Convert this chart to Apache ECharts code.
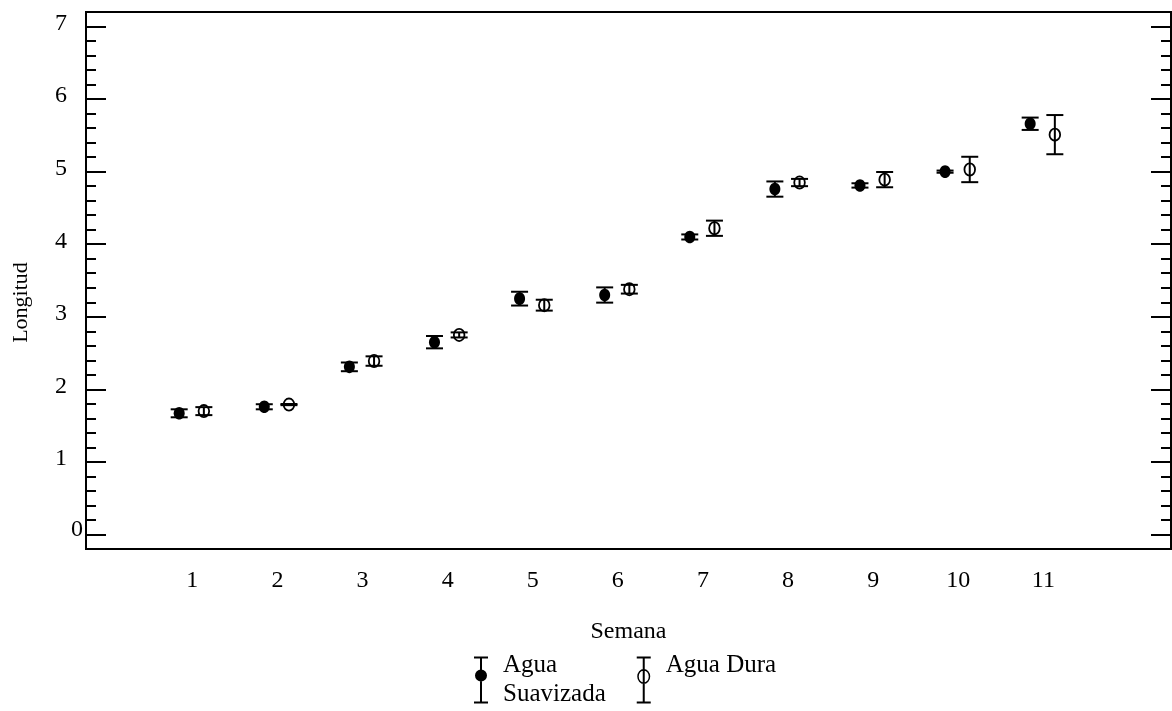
<!DOCTYPE html>
<html>
<head>
<meta charset="utf-8">
<script src="https://cdn.jsdelivr.net/npm/echarts@6/dist/echarts.min.js"></script>
<style>
  html, body { margin: 0; padding: 0; background: #fff; }
  #chart { width: 1172px; height: 711px; }
</style>
</head>
<body>
<div id="chart"></div>
<script>
// semanas y medias +/- error
const weeks = [1, 2, 3, 4, 5, 6, 7, 8, 9, 10, 11]
const softMean = [1.67, 1.76, 2.31, 2.65, 3.25, 3.30, 4.10, 4.76, 4.81, 5.00, 5.66]
const softErr = [0.055, 0.035, 0.06, 0.085, 0.095, 0.105, 0.035, 0.105, 0.03, 0.015, 0.085]
const hardMean = [1.70, 1.79, 2.39, 2.75, 3.16, 3.38, 4.22, 4.85, 4.89, 5.03, 5.51]
const hardErr = [0.055, 0.008, 0.065, 0.035, 0.075, 0.06, 0.105, 0.05, 0.105, 0.175, 0.27]
const yTicks = [0, 1, 2, 3, 4, 5, 6, 7]
const seriesNames = ['Agua Suavizada', 'Agua Dura']

const font = "'Liberation Serif', 'Times New Roman', serif"

// marcas menores cada 0.2
const yMinorTicks = []
for (let k = 1; k < 35; k++) {
  if (k % 5 !== 0) yMinorTicks.push(Math.round(k * 2) / 10)
}

// desplazamiento horizontal de cada grupo dentro de la semana
const softShift = -0.155
const hardShift = 0.135

const softData = weeks.map((w, i) => [w + softShift, softMean[i], softErr[i]])
const hardData = weeks.map((w, i) => [w + hardShift, hardMean[i], hardErr[i]])

function errorBar(filled) {
  return function (params, api) {
    const x = api.value(0)
    const m = api.value(1)
    const e = api.value(2)
    const c = api.coord([x, m])
    const top = api.coord([x, m + e])[1]
    const bot = api.coord([x, m - e])[1]
    const half = 8.5
    const st = { stroke: '#000', lineWidth: 2 }
    return {
      type: 'group',
      children: [
        { type: 'line', shape: { x1: c[0], y1: top, x2: c[0], y2: bot }, style: st },
        { type: 'line', shape: { x1: c[0] - half, y1: top, x2: c[0] + half, y2: top }, style: st },
        { type: 'line', shape: { x1: c[0] - half, y1: bot, x2: c[0] + half, y2: bot }, style: st },
        {
          type: 'ellipse',
          shape: { cx: c[0], cy: c[1], rx: filled ? 5.5 : 5.3, ry: filled ? 6.3 : 6.1 },
          style: filled ? { fill: '#000' } : { fill: 'none', stroke: '#000', lineWidth: 1.8 }
        }
      ]
    }
  }
}

const iconSoft = 'path://M0,0H14V2H0Z M6,0H8V47H6Z M0,45H14V47H0Z ' +
  'M13,19A6,6 0 1,1 1,19A6,6 0 1,1 13,19Z'
const iconHard = 'path://M0,0H14V2H0Z M6,0H8V47H6Z M0,45H14V47H0Z ' +
  'M13.5,20A6.5,7.5 0 1,1 0.5,20A6.5,7.5 0 1,1 13.5,20Z ' +
  'M12,20A5,6 0 1,0 2,20A5,6 0 1,0 12,20Z'

const chart = echarts.init(document.getElementById('chart'))

const axisCommon = {
  type: 'value',
  min: -0.2,
  max: 7.2,
  axisLine: { show: false, onZero: false },
  splitLine: { show: false }
}

const option = {
  backgroundColor: '#fff',
  animation: false,
  grid: {
    left: 86,
    right: 1,
    top: 12,
    bottom: 162,
    show: true,
    borderColor: '#000',
    borderWidth: 2,
    backgroundColor: 'transparent'
  },
  legend: {
    left: 469,
    top: 641,
    orient: 'horizontal',
    itemWidth: 34,
    itemHeight: 47,
    itemGap: 31,
    selectedMode: false,
    data: [
      { name: seriesNames[0], icon: iconSoft },
      { name: seriesNames[1], icon: iconHard }
    ],
    formatter: function (name) {
      return name === seriesNames[0] ? 'Agua\nSuavizada' : name + '\n '
    },
    textStyle: {
      fontFamily: font,
      fontSize: 25,
      lineHeight: 29,
      color: '#000',
      padding: [10, 0, 0, 0]
    }
  },
  xAxis: {
    type: 'value',
    min: -0.25,
    max: 12.5,
    axisLine: { show: false, onZero: false },
    axisTick: { show: false },
    splitLine: { show: false },
    axisLabel: {
      customValues: weeks,
      margin: 20,
      color: '#000',
      fontFamily: font,
      fontSize: 24
    },
    name: 'Semana',
    nameLocation: 'middle',
    nameGap: 71,
    nameTextStyle: { fontFamily: font, fontSize: 24, color: '#000' }
  },
  yAxis: [
    Object.assign({}, axisCommon, {
      position: 'left',
      axisTick: {
        inside: true,
        length: 20,
        customValues: yTicks,
        lineStyle: { color: '#000', width: 2 }
      },
      axisLabel: {
        customValues: yTicks,
        margin: 3,
        align: 'right',
        formatter: function (v) {
          return v === 0 ? '{z|0}' : '{n|' + v + '}'
        },
        rich: {
          n: { fontFamily: font, fontSize: 24, color: '#000', padding: [0, 16, 6, 0] },
          z: { fontFamily: font, fontSize: 24, color: '#000', padding: [0, 0, 10, 0] }
        }
      },
      name: 'Longitud',
      nameLocation: 'middle',
      nameRotate: 90,
      nameGap: 54,
      nameTextStyle: { fontFamily: font, fontSize: 22, color: '#000', padding: [0, 44, 0, 0] }
    }),
    Object.assign({}, axisCommon, {
      position: 'left',
      axisTick: {
        inside: true,
        length: 10,
        customValues: yMinorTicks,
        lineStyle: { color: '#000', width: 2 }
      },
      axisLabel: { show: false }
    }),
    Object.assign({}, axisCommon, {
      position: 'right',
      axisTick: {
        inside: true,
        length: 20,
        customValues: yTicks,
        lineStyle: { color: '#000', width: 2 }
      },
      axisLabel: { show: false }
    }),
    Object.assign({}, axisCommon, {
      position: 'right',
      axisTick: {
        inside: true,
        length: 10,
        customValues: yMinorTicks,
        lineStyle: { color: '#000', width: 2 }
      },
      axisLabel: { show: false }
    })
  ],
  series: [
    {
      name: seriesNames[0],
      type: 'custom',
      xAxisIndex: 0,
      yAxisIndex: 0,
      itemStyle: { color: '#000' },
      renderItem: errorBar(true),
      encode: { x: 0, y: [1] },
      data: softData
    },
    {
      name: seriesNames[1],
      type: 'custom',
      xAxisIndex: 0,
      yAxisIndex: 0,
      itemStyle: { color: '#000' },
      renderItem: errorBar(false),
      encode: { x: 0, y: [1] },
      data: hardData
    }
  ]
}

chart.setOption(option)
</script>
</body>
</html>
